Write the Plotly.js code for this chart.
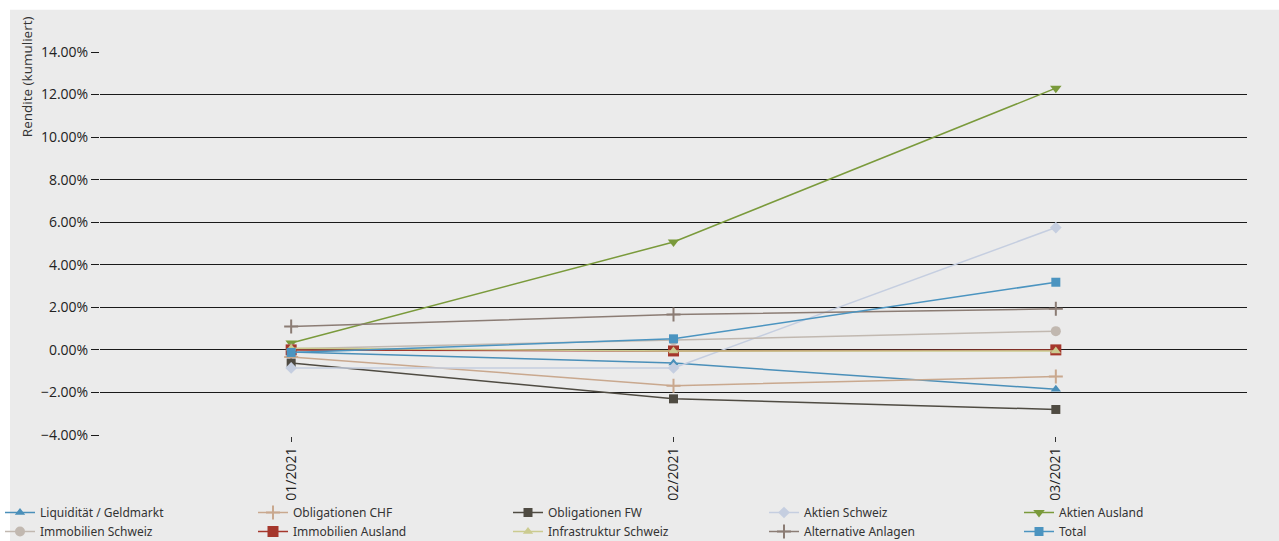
<!DOCTYPE html>
<html>
<head>
<meta charset="utf-8">
<script src="https://cdn.plot.ly/plotly-3.0.1.min.js"></script>
<style>html,body{margin:0;padding:0;background:#fff;}#chart{width:1279px;height:541px;}</style>
</head>
<body>
<div id="chart"></div>
<script>
const months = ['01/2021', '02/2021', '03/2021'];
const seriesNames = ['Liquidität / Geldmarkt', 'Obligationen CHF', 'Obligationen FW', 'Aktien Schweiz', 'Aktien Ausland',
  'Immobilien Schweiz', 'Immobilien Ausland', 'Infrastruktur Schweiz', 'Alternative Anlagen', 'Total'];
const liquiditaet = [-0.10, -0.62, -1.85];
const obligationenCHF = [-0.33, -1.68, -1.25];
const obligationenFW = [-0.62, -2.30, -2.80];
const aktienSchweiz = [-0.85, -0.85, 5.75];
const aktienAusland = [0.32, 5.07, 12.30];
const immobilienSchweiz = [0.05, 0.46, 0.88];
const immobilienAusland = [0.00, -0.05, 0.00];
const infrastrukturSchweiz = [0.08, -0.05, -0.05];
const alternativeAnlagen = [1.10, 1.66, 1.93];
const total = [-0.12, 0.52, 3.18];
const seriesValues = [liquiditaet, obligationenCHF, obligationenFW, aktienSchweiz, aktienAusland,
  immobilienSchweiz, immobilienAusland, infrastrukturSchweiz, alternativeAnlagen, total];

const colors = ['#4a8fb9', '#c9a88e', '#4f4b42', '#c5cee0', '#7a9a3b', '#c1b8b0', '#a5372c', '#cbcb90', '#8b7c74', '#4b94c0'];
const symbols = ['triangle-up', 'cross-thin', 'square', 'diamond', 'triangle-down', 'circle', 'square', 'triangle-up', 'cross-thin', 'square'];
const sizes = [9, 10, 9, 9, 10, 10, 11, 9, 10, 9];
const legendIds = ['legend', 'legend2', 'legend3', 'legend4', 'legend5', 'legend', 'legend2', 'legend3', 'legend4', 'legend5'];

const traces = seriesNames.map((name, i) => ({
  type: 'scatter', mode: 'lines+markers', name: name,
  x: months, y: seriesValues[i],
  line: {color: colors[i], width: 1.5},
  marker: {symbol: symbols[i], size: sizes[i], color: colors[i],
    line: {color: colors[i], width: symbols[i] === 'cross-thin' ? 2 : 0}},
  legend: legendIds[i],
  hoverinfo: 'x+y+name'
}));

const legendFont = {family: 'Noto Sans, Open Sans, sans-serif', size: 12, color: '#333'};
const colX = [0, 253, 508, 764, 1019];
function mkLegend(px) {
  return {xref: 'container', yref: 'container', x: px / 1279, y: 1 - 498 / 541,
    xanchor: 'left', yanchor: 'top', orientation: 'v', bgcolor: 'rgba(0,0,0,0)',
    font: legendFont, itemwidth: 30, tracegroupgap: 0, traceorder: 'normal'};
}

const plotL = 100, plotR = 1247;
const layout = {
  width: 1279, height: 541,
  paper_bgcolor: '#ffffff', plot_bgcolor: '#ebebeb',
  margin: {l: plotL, r: 1279 - plotR, t: 51, b: 105, autoexpand: false},
  font: {family: 'Open Sans, Noto Sans, sans-serif', color: '#222'},
  showlegend: true,
  legend: mkLegend(colX[0]), legend2: mkLegend(colX[1]), legend3: mkLegend(colX[2]),
  legend4: mkLegend(colX[3]), legend5: mkLegend(colX[4]),
  xaxis: {type: 'category', categoryorder: 'array', categoryarray: months,
    range: [-0.5, 2.5], showgrid: false, zeroline: false, showline: false,
    ticks: 'outside', ticklen: 5, tickcolor: '#333', tickwidth: 1,
    tickangle: -90, tickfont: {size: 14, color: '#222'}, fixedrange: true, automargin: false},
  yaxis: {range: [-4.047, 14.047], tickmode: 'linear', tick0: 0, dtick: 2,
    tickformat: '.2f', ticksuffix: '%', showgrid: true, gridcolor: '#1a1a1a', gridwidth: 1,
    zeroline: false, showline: false, ticks: 'outside', ticklen: 8, tickcolor: '#1a1a1a',
    ticklabelstandoff: 0,
    tickfont: {size: 14, color: '#222'}, fixedrange: true, automargin: false},
  shapes: [{type: 'rect', xref: 'paper', yref: 'paper', layer: 'below',
    x0: (10 - plotL) / (plotR - plotL), x1: 1.1, y0: -0.35, y1: (435 - 11) / 383,
    fillcolor: '#ebebeb', line: {width: 0}}],
  annotations: [{text: 'Rendite (kumuliert)', xref: 'paper', yref: 'paper',
    x: (27 - plotL) / (plotR - plotL), y: (435 - 78) / 383, textangle: -90, showarrow: false,
    xanchor: 'center', yanchor: 'middle',
    font: {family: 'Open Sans, Noto Sans, sans-serif', size: 13.5, color: '#333'}}]
};

Plotly.newPlot('chart', traces, layout, {displayModeBar: false, staticPlot: true});
</script>
</body>
</html>
